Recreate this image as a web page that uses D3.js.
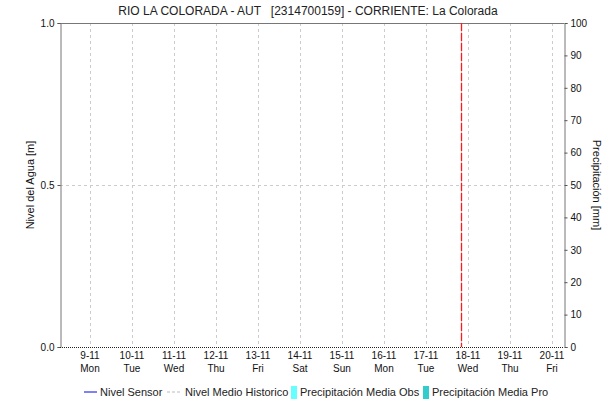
<!DOCTYPE html>
<html><head><meta charset="utf-8">
<script src="https://cdn.jsdelivr.net/npm/d3@7"></script>
<style>body{margin:0;background:#fff}svg{display:block;font-family:"Liberation Sans",Arial,sans-serif}</style>
</head><body><svg id="c" width="616" height="403"></svg>
<script>
const title = "RIO LA COLORADA - AUT   [2314700159] - CORRIENTE: La Colorada";
const dayTicks = ["2020-11-09","2020-11-10","2020-11-11","2020-11-12","2020-11-13","2020-11-14","2020-11-15","2020-11-16","2020-11-17","2020-11-18","2020-11-19","2020-11-20"];
const dayNames = ["Mon","Tue","Wed","Thu","Fri","Sat","Sun","Mon","Tue","Wed","Thu","Fri"];
const xStart = "2020-11-08T06:51", xEnd = "2020-11-20T06:51";
const levelTicks = [0, 0.5, 1.0];
const precipTicks = [0,10,20,30,40,50,60,70,80,90,100];
const historicLevel = [["2020-11-08T06:51",0],["2020-11-20T06:51",0]];
const nowMarker = "2020-11-17T20:00";
const legendItems = ["Nivel Sensor","Nivel Medio Historico","Precipitación Media Obs","Precipitación Media Pro"];

const svg = d3.select("#c");
const L=60,R=564,T=23,B=347;
const FF = "'Liberation Sans', Arial, sans-serif";
const parse = d3.timeParse("%Y-%m-%dT%H:%M"), pd = d3.timeParse("%Y-%m-%d");
const x = d3.scaleTime().domain([parse(xStart),parse(xEnd)]).range([L,R]);
const y = d3.scaleLinear().domain([0,1]).range([B,T]);
const y2 = d3.scaleLinear().domain([0,100]).range([B,T]);

svg.append("text").attr("x",308).attr("y",15).attr("text-anchor","middle").attr("font-size",12).attr("fill","#222").style("white-space","pre").text(title);

// grid
const days = dayTicks.map(d=>pd(d));
svg.append("g").selectAll("line").data(days).join("line")
 .attr("x1",d=>Math.round(x(d))+0.5).attr("x2",d=>Math.round(x(d))+0.5).attr("y1",T).attr("y2",B)
 .attr("stroke","#cccccc").attr("stroke-dasharray","3,3");
svg.append("line").attr("x1",L).attr("x2",R).attr("y1",Math.round(y(0.5))+0.5).attr("y2",Math.round(y(0.5))+0.5)
 .attr("stroke","#cccccc").attr("stroke-dasharray","3,3");

// frame
svg.append("line").attr("x1",L).attr("x2",R).attr("y1",T+0.5).attr("y2",T+0.5).attr("stroke","#777");

// axes
const gl = svg.append("g").attr("transform",`translate(${L+0.5},0)`)
 .call(d3.axisLeft(y).tickValues(levelTicks).tickFormat(d3.format(".1f")).tickSize(3).tickPadding(3));
const gr = svg.append("g").attr("transform",`translate(${R+0.5},0)`)
 .call(d3.axisRight(y2).tickValues(precipTicks).tickSize(3).tickPadding(3));
[gl,gr].forEach(g=>{g.select(".domain").attr("stroke","#777");g.selectAll(".tick line").attr("stroke","#555");
 g.selectAll("text").attr("font-size",10).attr("fill","#111").attr("font-family",FF);});

// x labels
const gx = svg.append("g").attr("transform",`translate(0,${B})`)
 .call(d3.axisBottom(x).tickValues(days).tickSize(0).tickFormat(""));
gx.select(".domain").remove();
const xl = svg.append("g").selectAll("text").data(days).join("text")
 .attr("x",d=>x(d)).attr("text-anchor","middle").attr("font-size",10).attr("fill","#111");
xl.append("tspan").attr("x",d=>x(d)).attr("y",359).text(d=>d3.timeFormat("%-d-%m")(d));
xl.append("tspan").attr("x",d=>x(d)).attr("y",372).text((d,i)=>dayNames[i]);

// historic level line (dotted at 0)
svg.append("path").datum(historicLevel).attr("fill","none").attr("stroke","#222").attr("stroke-dasharray","1,1")
 .attr("d",d3.line().x(d=>x(parse(d[0]))).y(d=>Math.round(y(d[1]))+0.5));

// now marker
const nx = Math.round(x(parse(nowMarker)))+0.5;
svg.append("line").attr("x1",nx).attr("x2",nx).attr("y1",T).attr("y2",B).attr("stroke","#cccccc");
svg.append("line").attr("x1",nx).attr("x2",nx).attr("y1",T).attr("y2",B).attr("stroke","#ff1a1a").attr("stroke-width",1.3).attr("stroke-dasharray","8,2");

// axis titles
svg.append("text").attr("transform","translate(34,185) rotate(-90)").attr("text-anchor","middle").attr("font-size",11).attr("fill","#111").text("Nivel del Agua [m]");
svg.append("text").attr("transform","translate(593,185) rotate(90)").attr("text-anchor","middle").attr("font-size",11).attr("fill","#111").text("Precipitación [mm]");

// legend
const ly=392;
const lg = svg.append("g").attr("font-size",11).attr("fill","#222");
lg.append("line").attr("x1",84).attr("x2",97).attr("y1",ly).attr("y2",ly).attr("stroke","#0000ee");
lg.append("text").attr("x",100).attr("y",ly+4).text(legendItems[0]);
lg.append("line").attr("x1",167).attr("x2",181).attr("y1",ly).attr("y2",ly).attr("stroke","#bbb").attr("stroke-dasharray","3,2");
lg.append("text").attr("x",185).attr("y",ly+4).text(legendItems[1]);
lg.append("rect").attr("x",291).attr("y",ly-6).attr("width",6).attr("height",13).attr("fill","#66ffff");
lg.append("text").attr("x",300).attr("y",ly+4).text(legendItems[2]);
lg.append("rect").attr("x",423).attr("y",ly-6).attr("width",6).attr("height",13).attr("fill","#33cccc");
lg.append("text").attr("x",432).attr("y",ly+4).text(legendItems[3]);
</script></body></html>
